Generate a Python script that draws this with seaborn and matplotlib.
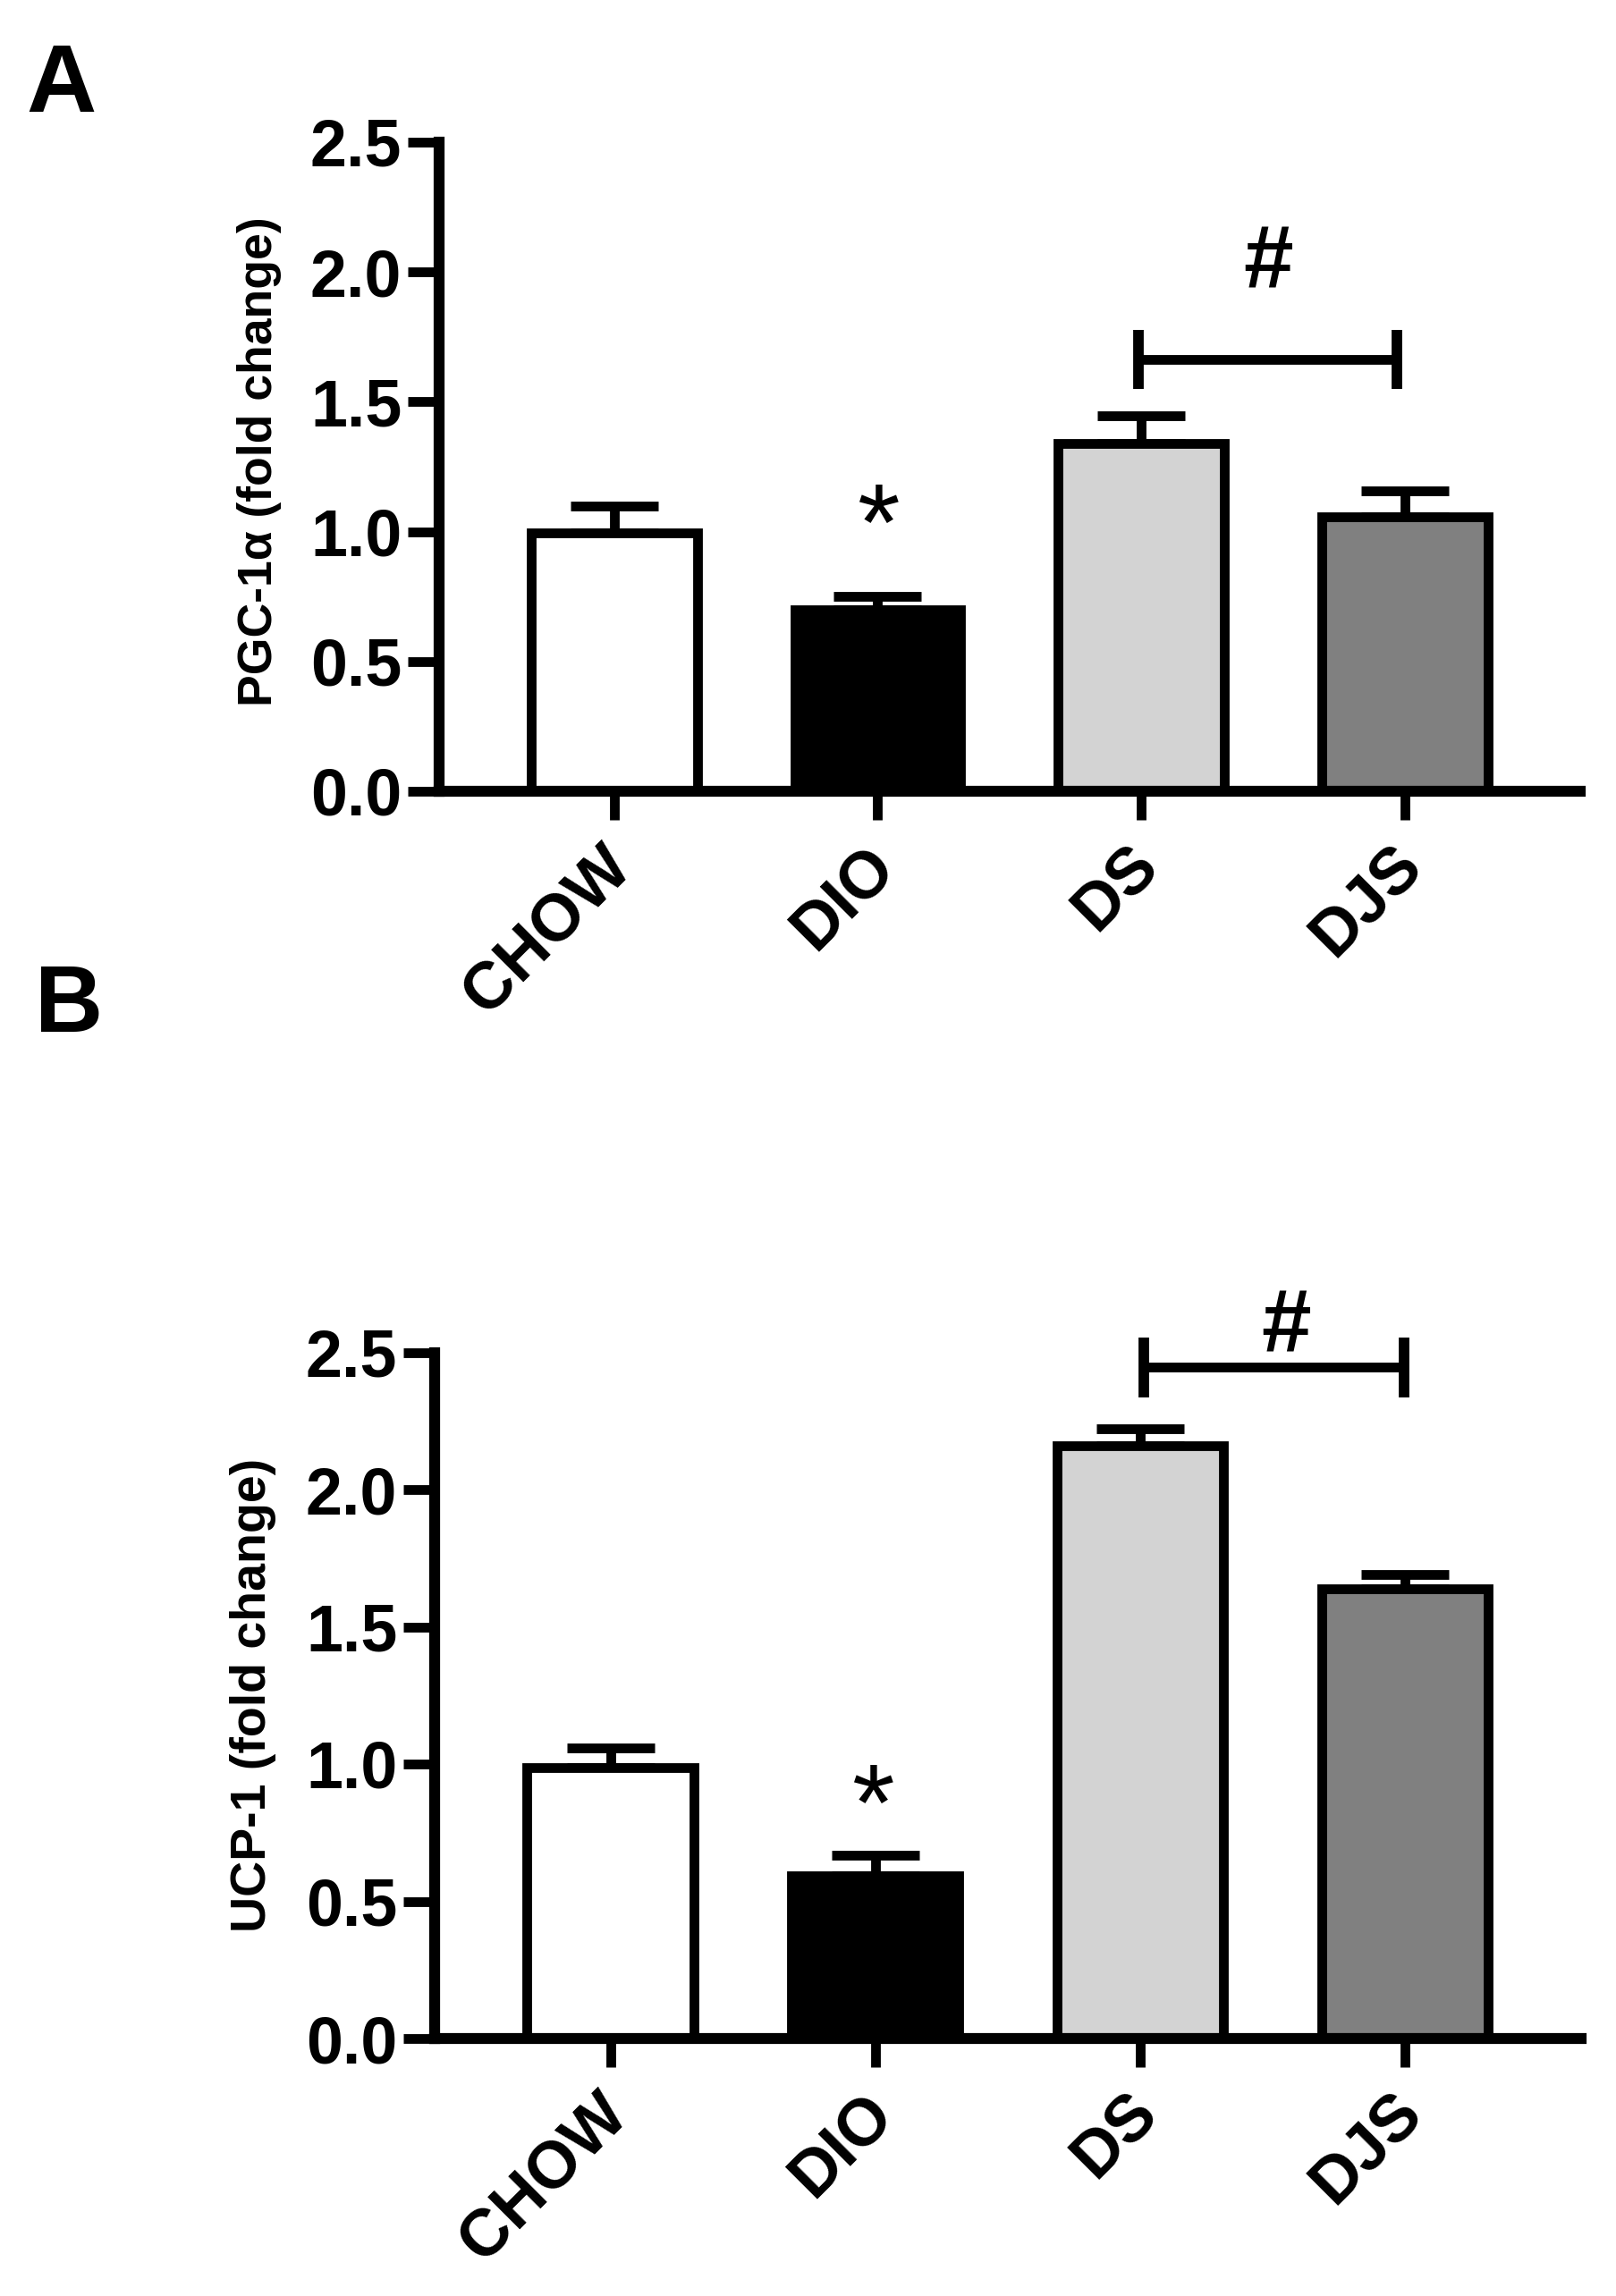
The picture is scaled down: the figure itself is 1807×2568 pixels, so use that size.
import matplotlib
matplotlib.use("Agg")
import matplotlib.pyplot as plt
from matplotlib.transforms import ScaledTranslation
import pandas as pd
import seaborn as sns

groups = ["CHOW", "DIO", "DS", "DJS"]
bar_colors = ["white", "black", "#d3d3d3", "#808080"]
y_ticks = [0.0, 0.5, 1.0, 1.5, 2.0, 2.5]

pgc_mean = [0.996, 0.70, 1.34, 1.057]
pgc_sem = [0.102, 0.05, 0.106, 0.101]
ucp_mean = [0.987, 0.593, 2.16, 1.638]
ucp_sem = [0.071, 0.076, 0.06, 0.052]

# significance marks: bracket x0, x1, y, half height / star x, y / hash x, y
pgc_bracket = [1.99, 2.97, 1.663, 0.115]
pgc_star = [1.0, 1.003]
pgc_hash = [2.48, 2.028]
ucp_bracket = [2.013, 2.996, 2.445, 0.11]
ucp_star = [0.99, 0.829]
ucp_hash = [2.55, 2.585]

W, H = 1807, 2568
LW = 7.8

sns.set_theme(style="ticks")
plt.rcParams["font.family"] = ["Liberation Sans", "DejaVu Sans"]
plt.rcParams["font.weight"] = "bold"
plt.rcParams["text.color"] = "black"
plt.rcParams["axes.labelcolor"] = "black"

fig = plt.figure(figsize=(W / 100, H / 100), dpi=100, facecolor="white")


def panel(box, mean, sem, ylabel, label_size, label_pos, bracket, star, hash_mark):
    left, right, top, bottom = box
    ax = fig.add_axes([left / W, 1 - bottom / H, (right - left) / W, (bottom - top) / H])
    df = pd.DataFrame({"group": groups, "value": mean})

    sns.barplot(data=df, x="group", y="value", hue="group", palette=bar_colors, order=groups,
                hue_order=groups, saturation=1, width=0.63, edgecolor="black",
                linewidth=LW, legend=False, ax=ax, zorder=2)
    ax.errorbar(range(4), mean, yerr=[[0] * 4, sem], fmt="none", ecolor="black",
                elinewidth=LW, capsize=35, capthick=LW, zorder=1)

    # bracket over DS / DJS
    x0, x1, y, half = bracket
    ax.plot([x0, x1], [y, y], color="black", lw=LW, solid_capstyle="butt", clip_on=False)
    ax.vlines([x0, x1], y - half, y + half, color="black", lw=8.5, clip_on=False)
    ax.text(star[0], star[1], "*", fontsize=88, fontweight="normal", ha="center", va="center")
    ax.text(hash_mark[0], hash_mark[1], "#", fontsize=72, fontweight="bold", ha="center", va="center")

    ax.set_xlim(-0.664, 3.665)
    ax.set_ylim(0, 2.5)
    ax.set_yticks(y_ticks)
    ax.set_yticklabels([f"{t:.1f}" for t in y_ticks])
    ax.set_xlabel("")
    ax.set_ylabel(ylabel, fontsize=label_size, fontweight="bold")
    ax.yaxis.set_label_coords(*label_pos)
    sns.despine(ax=ax)
    for side in ["left", "bottom"]:
        ax.spines[side].set_linewidth(8.8)
        ax.spines[side].set_color("black")
        ax.spines[side].set_zorder(5)
    ax.tick_params(axis="y", length=25, width=LW, color="black", labelsize=53, pad=5, labelcolor="black")
    ax.tick_params(axis="x", length=23, width=LW, color="black", labelsize=53, pad=12, labelcolor="black")
    shift = ScaledTranslation(-16 / 100, 0, fig.dpi_scale_trans)
    for lab in ax.get_xticklabels():
        lab.set_rotation(45)
        lab.set_ha("right")
        lab.set_va("top")
        lab.set_rotation_mode("anchor")
        lab.set_fontweight("bold")
        lab.set_transform(lab.get_transform() + shift)
    for lab in ax.get_yticklabels():
        lab.set_fontweight("bold")
    return ax


panel((491, 1767, 159, 885), pgc_mean, pgc_sem, "PGC-1α (fold change)", 38.5, (-0.138, 0.508),
      pgc_bracket, pgc_star, pgc_hash)
panel((486, 1768, 1512.5, 2280), ucp_mean, ucp_sem, "UCP-1 (fold change)", 40, (-0.138, 0.501),
      ucp_bracket, ucp_star, ucp_hash)

fig.text(68 / W, 1 - 125 / H, "A", fontsize=78, fontweight="bold", ha="center", va="baseline")
fig.text(77 / W, 1 - 1154 / H, "B", fontsize=76, fontweight="bold", ha="center", va="baseline")

fig.savefig("out.png", dpi=100)
